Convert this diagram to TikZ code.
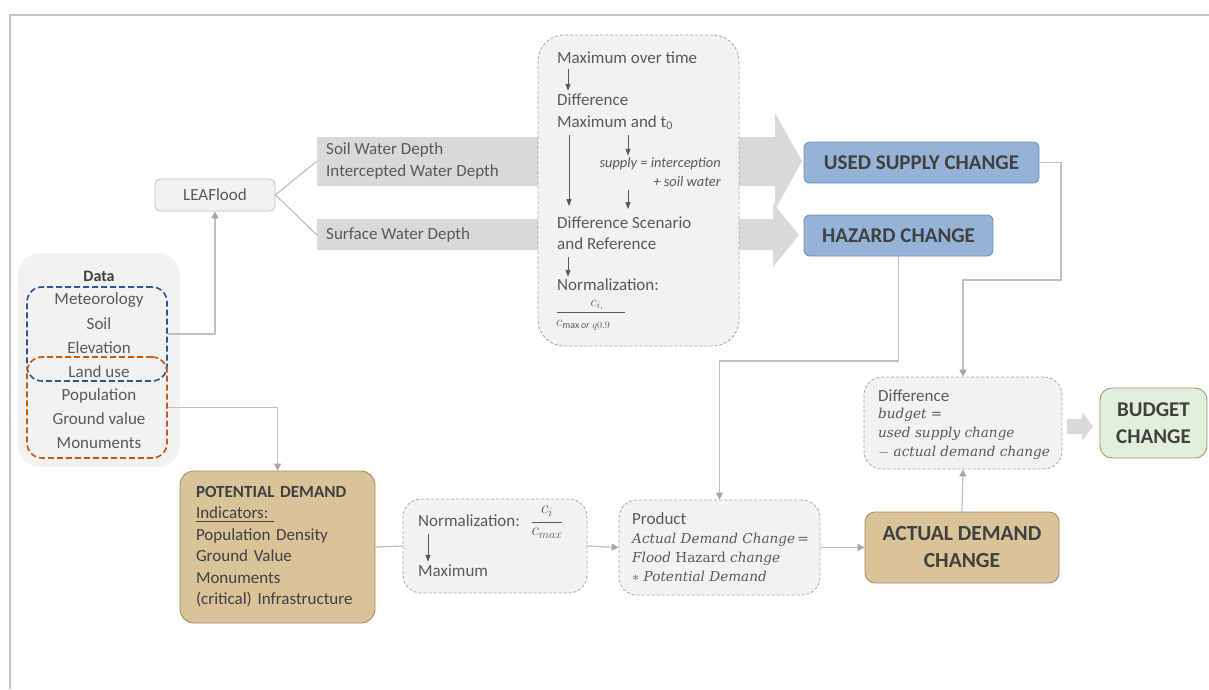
\documentclass[tikz,border=0pt]{standalone}
\usepackage{amsmath}
\usepackage{fontspec}
\setmainfont{Carlito}
\newfontfamily\eqfont{DejaVu Serif}
\usetikzlibrary{arrows.meta}

\definecolor{txt}{HTML}{595959}
\definecolor{ttl}{HTML}{404040}
\definecolor{ln}{HTML}{BFBFBF}
\definecolor{tip}{HTML}{A6A6A6}
\definecolor{band}{HTML}{D9D9D9}
\definecolor{panel}{HTML}{F2F2F2}
\definecolor{dashc}{HTML}{A6A6A6}
\definecolor{frame}{HTML}{C4C4C4}
\definecolor{blueF}{HTML}{95B3D7}
\definecolor{blueD}{HTML}{6D8EBF}
\definecolor{tanF}{HTML}{D9C398}
\definecolor{tanD}{HTML}{A88C5C}
\definecolor{greenF}{HTML}{E2EFDA}
\definecolor{greenD}{HTML}{7FA86A}
\definecolor{hydro}{HTML}{2F5597}
\definecolor{socio}{HTML}{C55A11}

\tikzset{
  lbl/.style={anchor=west, inner sep=0pt, text=txt, font=\fontsize{17}{21.5}\selectfont, align=left},
  clbl/.style={inner sep=0pt, text=txt, font=\fontsize{17}{21.5}\selectfont},
  eqlbl/.style={anchor=west, inner sep=0pt, text=txt, font=\eqfont\itshape\fontsize{13.6}{19}\selectfont, align=left},
  mathlbl/.style={inner sep=0pt, text=txt, font=\fontsize{17.28}{20}\selectfont},
  stepbox/.style={draw=dashc, dash pattern=on 3pt off 2pt, line width=0.8pt, fill=panel, rounded corners=18pt},
  bluebox/.style={draw=blueD, line width=0.9pt, fill=blueF, rounded corners=6pt, text=ttl,
    font=\bfseries\fontsize{21}{26}\selectfont},
  tanbox/.style={draw=tanD, line width=0.9pt, fill=tanF, rounded corners=14pt, text=ttl},
  greenbox/.style={draw=greenD, line width=0.9pt, fill=greenF, rounded corners=12pt, text=ttl,
    font=\bfseries\fontsize{21}{27}\selectfont, align=center},
  groupbox/.style={dash pattern=on 6pt off 3pt, line width=1.6pt, rounded corners=15pt},
  conn/.style={draw=ln, line width=1.2pt},
  connarr/.style={conn, -{Triangle[length=7pt,width=7pt,color=tip]}},
  darr/.style={draw=txt, line width=0.9pt, -{Triangle[length=7pt,width=5pt]}},
  fracbar/.style={draw=txt, line width=0.8pt},
}

\begin{document}
\begin{tikzpicture}[x=1pt,y=-1pt]
\useasboundingbox (0,0) rectangle (1209,689);

% outer frame
\draw[frame, line width=2.2pt] (10,689) -- (10,15) -- (1209,15);

% ---------- input data ----------
\node[fill=panel, rounded corners=22pt, minimum width=162pt, minimum height=214pt, inner sep=0pt] (data) at (99,360) {};
\node[clbl, text=ttl, font=\bfseries\fontsize{16}{20}\selectfont] (datat) at (99,276) {Data};
\node[groupbox, draw=hydro, minimum width=140pt, minimum height=94pt] (hydrogrp) at (97,334) {};
\node[groupbox, draw=socio, minimum width=140pt, minimum height=101pt] (sociogrp) at (97,407.5) {};
\node[clbl] (met) at (99,300) {Meteorology};
\node[clbl] (soil) at (99,324) {Soil};
\node[clbl] (elev) at (99,348) {Elevation};
\node[clbl] (land) at (99,372) {Land use};
\node[clbl] (pop) at (99,395.5) {Population};
\node[clbl] (ground) at (99,419) {Ground value};
\node[clbl] (monu) at (99,443) {Monuments};

% ---------- model ----------
\node[draw=ln, line width=0.8pt, fill=panel, rounded corners=5pt, minimum width=120pt, minimum height=32pt,
      text=txt, font=\fontsize{17}{21}\selectfont] (leaf) at (215,195) {LEAFlood};

% wide grey arrows carrying the model outputs
\fill[band] (317,137) -- (775,137) -- (775,113) -- (802,161) -- (775,210) -- (775,186) -- (317,186) -- cycle;
\fill[band] (317,219) -- (773,219) -- (773,203) -- (799,235) -- (773,267) -- (773,250) -- (317,250) -- cycle;

\node[lbl, inner xsep=9pt] (swd) at (317,161) {Soil Water Depth\\Intercepted Water Depth};
\node[lbl, inner xsep=9pt] (sfc) at (317,235) {Surface Water Depth};

% ---------- processing steps ----------
\node[stepbox, rounded corners=26pt, minimum width=201pt, minimum height=311pt] (proc) at (638.5,190.5) {};
\node[lbl] (mot) at (557,58) {Maximum over time};
\node[lbl] (dmt) at (557,112) {Difference\\Maximum and t\textsubscript{0}};
\node[anchor=east, inner sep=0pt, text=txt, font=\itshape\fontsize{14.4}{19}\selectfont, align=right] (sup) at (721,172.5) {supply = interception\\+ soil water};
\node[lbl] (dsr) at (557,233) {Difference Scenario\\and Reference};
\node[lbl] (nrm) at (557,285) {Normalization:};
% normalisation fraction
\node[mathlbl, font=\fontsize{14.4}{16}\selectfont] (fnum) at (597,305) {$c_{i,}$};
\draw[fracbar] (557,312) -- (625,312);
\node[mathlbl, anchor=west, font=\fontsize{14.4}{16}\selectfont] (fden) at (556,325) {$c_{\mathrm{max}\,\mathit{or}\;q0.9}$};

\draw[darr] ([xshift=11pt,yshift=-5pt]mot.south west) -- ([xshift=11pt,yshift=3pt]dmt.north west);
\draw[darr] ([xshift=12pt,yshift=-5pt]dmt.south west) -- ([xshift=12pt,yshift=10pt]dsr.north west);
\draw[darr] ([xshift=71pt,yshift=-5pt]dmt.south west) -- ([xshift=-93pt,yshift=2pt]sup.north east);
\draw[darr] ([xshift=-93pt,yshift=-3pt]sup.south east) -- ([xshift=71pt,yshift=7pt]dsr.north west);
\draw[darr] ([xshift=11pt,yshift=-7pt]dsr.south west) -- ([xshift=11pt,yshift=2pt]nrm.north west);

% ---------- indicators ----------
\node[bluebox, minimum width=235pt, minimum height=41pt] (usc) at (921.5,162.5) {USED SUPPLY CHANGE};
\node[bluebox, minimum width=189pt, minimum height=41pt] (haz) at (898.5,235.5) {HAZARD CHANGE};

\node[tanbox, minimum width=195pt, minimum height=152pt, text width=163pt, inner xsep=16pt, align=left,
      font=\fontsize{17}{21.5}\selectfont] (pd) at (277.5,547)
  {\textbf{POTENTIAL DEMAND}\\[-0.5pt]\underline{Indicators:\ }\\Population Density\\Ground Value\\Monuments\\(critical) Infrastructure};

\node[stepbox, minimum width=184pt, minimum height=94pt] (norm) at (495,546) {};
\node[lbl] (nrm2) at (418,521) {Normalization:};
\node[mathlbl] (fnum2) at (547,511) {$c_i$};
\draw[fracbar] (532,522) -- (562,522);
\node[mathlbl] (fden2) at (547,533) {$c_{max}$};
\node[lbl] (maxm) at (418,571) {Maximum};
\draw[darr] ([xshift=10pt,yshift=-7pt]nrm2.south west) -- ([xshift=10pt,yshift=3pt]maxm.north west);

\node[stepbox, minimum width=201pt, minimum height=95pt] (prod) at (719.5,547.5) {};
\node[lbl] (prodt) at (632,519) {Product};
\node[eqlbl] (prodeq) at (632,557) {Actual Demand Change\,{\upshape =}\\Flood {\upshape Hazard} change\\{\upshape $*$} Potential Demand};

\node[tanbox, rounded corners=10pt, minimum width=194pt, minimum height=71pt, align=center,
      font=\bfseries\fontsize{21.5}{27}\selectfont] (adc) at (962,547.5) {ACTUAL DEMAND\\CHANGE};

\node[stepbox, minimum width=198pt, minimum height=92pt] (diff) at (963,423) {};
\node[lbl] (difft) at (878,396) {Difference};
\node[eqlbl] (diffeq) at (878,433.5) {budget {\upshape =}\\used supply change\\{\upshape $-$} actual demand change};

\node[greenbox, minimum width=107pt, minimum height=70pt] (bud) at (1153.5,423) {BUDGET\\CHANGE};

% small block arrow towards the budget
\fill[band] (1067,419) -- (1082,419) -- (1082,412) -- (1093,426.5) -- (1082,441) -- (1082,434) -- (1067,434) -- cycle;

% ---------- connectors ----------
\coordinate (j1) at (1061,280);
\coordinate (j2) at (719.5,361);
\draw[connarr] (hydrogrp.east) -| (leaf.south);
\draw[conn] (leaf.east) -- (swd.west);
\draw[conn] (leaf.east) -- (sfc.west);
\draw[connarr] (sociogrp.east) -| (pd.north);
\draw[conn] (pd.east) -- (norm.west);
\draw[connarr] (norm.east) -- (prod.west);
\draw[connarr] (prod.east) -- (adc.west);
\draw[connarr] (adc.north) -- (diff.south);
\draw[connarr] (usc.east) -| (j1) -| (diff.north);
\draw[connarr] (haz.south) |- (j2) -- (prod.north);
\end{tikzpicture}
\end{document}
